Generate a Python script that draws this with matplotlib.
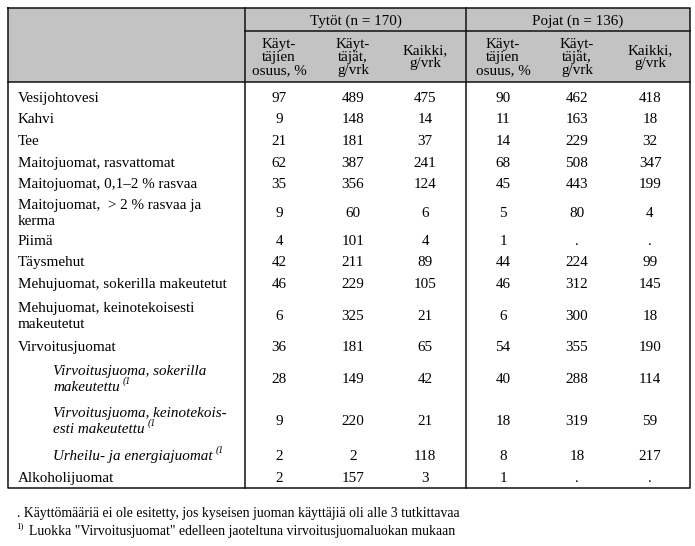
import matplotlib.pyplot as plt

plt.rcParams['font.family'] = ['Liberation Serif', 'DejaVu Serif']

# row labels (list of lines)
labels = [
    ["Vesijohtovesi"],
    ["Kahvi"],
    ["Tee"],
    ["Maitojuomat, rasvattomat"],
    ["Maitojuomat, 0,1\u20132 % rasvaa"],
    ["Maitojuomat,  > 2 % rasvaa ja", "kerma"],
    ["Piimä"],
    ["Täysmehut"],
    ["Mehujuomat, sokerilla makeutetut"],
    ["Mehujuomat, keinotekoisesti", "makeutetut"],
    ["Virvoitusjuomat"],
    ["Virvoitusjuoma, sokerilla", "makeutettu"],
    ["Virvoitusjuoma, keinotekois-", "esti makeutettu"],
    ["Urheilu- ja energiajuomat"],
    ["Alkoholijuomat"],
]
sub_rows = [11, 12, 13]

tytot_osuus = ["97", "9", "21", "62", "35", "9", "4", "42", "46", "6", "36", "28", "9", "2", "2"]
tytot_kayttajat = ["489", "148", "181", "387", "356", "60", "101", "211", "229", "325", "181", "149", "220", "2", "157"]
tytot_kaikki = ["475", "14", "37", "241", "124", "6", "4", "89", "105", "21", "65", "42", "21", "118", "3"]
pojat_osuus = ["90", "11", "14", "68", "45", "5", "1", "44", "46", "6", "54", "40", "18", "8", "1"]
pojat_kayttajat = ["462", "163", "229", "508", "443", "80", ".", "224", "312", "300", "355", "288", "319", "18", "."]
pojat_kaikki = ["418", "18", "32", "347", "199", "4", ".", "99", "145", "18", "190", "114", "59", "217", "."]

groups = ["Tytöt (n = 170)", "Pojat (n = 136)"]
col_heads = [["Käyt-", "täjien", "osuus, %"], ["Käyt-", "täjät,", "g/vrk"], ["Kaikki,", "g/vrk"]]
footnotes = [". Käyttömääriä ei ole esitetty, jos kyseisen juoman käyttäjiä oli alle 3 tutkittavaa",
             "Luokka \"Virvoitusjuomat\" edelleen jaoteltuna virvoitusjuomaluokan mukaan"]

# layout (pixels)
W, H = 695, 546
x_left, x_split1, x_split2, x_right = 8, 245, 466, 690
y_top, y_grp, y_head, y_bot = 8, 31, 82, 488
col_x = [279, 353, 425, 503, 577, 650]
row_y = [97, 118, 140, 162, 183, 212, 240, 261, 283, 315, 346, 378, 420, 455, 477]
fs = 10.9
lc = '#111111'

fig = plt.figure(figsize=(W / 100, H / 100), dpi=100)
ax = fig.add_axes([0, 0, 1, 1])
ax.set_xlim(0, W)
ax.set_ylim(H, 0)
ax.axis('off')

# header shading
ax.fill_between([x_left, x_right], y_top, y_head, color='#c3c3c3', lw=0)

# lines
ax.plot([x_left, x_right, x_right, x_left, x_left], [y_top, y_top, y_bot, y_bot, y_top], color=lc, lw=1.1)
ax.plot([x_left, x_right], [y_head, y_head], color=lc, lw=1.1)
ax.plot([x_split1, x_right], [y_grp, y_grp], color=lc, lw=1.1)
ax.plot([x_split1, x_split1], [y_top, y_bot], color=lc, lw=1.1)
ax.plot([x_split2, x_split2], [y_top, y_bot], color=lc, lw=1.1)

va = 'center_baseline'

# group headers
ax.text((x_split1 + x_split2) / 2, 20, groups[0], ha='center', va=va, fontsize=fs)
ax.text((x_split2 + x_right) / 2, 20, groups[1], ha='center', va=va, fontsize=fs)

# column headers
for g in range(2):
    for c, head in enumerate(col_heads):
        n = len(head)
        y0 = 56 - (n - 1) * 13 / 2
        for k, line in enumerate(head):
            ax.text(col_x[g * 3 + c], y0 + k * 13, line, ha='center', va=va, fontsize=fs)

# row labels
fig.canvas.draw()
renderer = fig.canvas.get_renderer()
for i, lab in enumerate(labels):
    italic = i in sub_rows
    x = 53 if italic else 18
    style = 'italic' if italic else 'normal'
    n = len(lab)
    y0 = row_y[i] - (n - 1) * 16.5 / 2
    t = None
    for k, line in enumerate(lab):
        t = ax.text(x, y0 + k * 16.5, line, ha='left', va=va, fontsize=fs, style=style)
    if italic:
        bb = t.get_window_extent(renderer)
        xe = bb.x1 + 3
        ax.text(xe, y0 + (n - 1) * 16.5 - 6, "(1", ha='left', va=va, fontsize=7,
                style='italic', transform=ax.transData)

# values
cols = [tytot_osuus, tytot_kayttajat, tytot_kaikki, pojat_osuus, pojat_kayttajat, pojat_kaikki]
for c, vals in enumerate(cols):
    for i, v in enumerate(vals):
        ax.text(col_x[c], row_y[i], v, ha='center', va=va, fontsize=fs)

# footnotes
ax.text(17, 512, footnotes[0], ha='left', va=va, fontsize=9.9)
ax.text(16, 525, "1)", ha='left', va=va, fontsize=6.5)
ax.text(29, 530, footnotes[1], ha='left', va=va, fontsize=9.9)

fig.savefig('out.png', dpi=100)
